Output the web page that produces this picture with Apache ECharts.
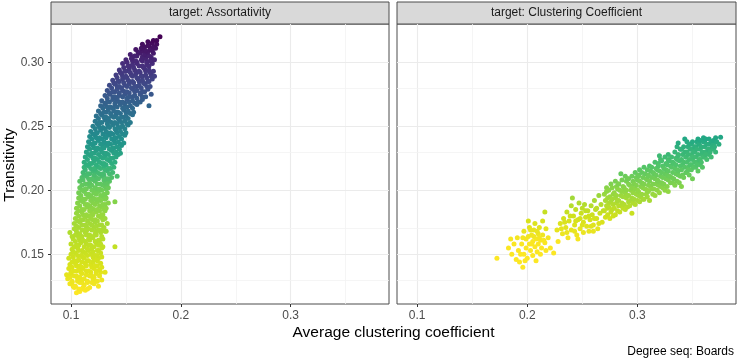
<!DOCTYPE html>
<html>
<head>
<meta charset="utf-8">
<title>Transitivity vs average clustering coefficient</title>
<script src="https://cdn.jsdelivr.net/npm/echarts@6/dist/echarts.min.js"></script>
<style>
  html, body { margin: 0; padding: 0; background: #fff; }
  #chart { width: 737px; height: 363px; }
</style>
</head>
<body>
<div id="chart"></div>
<script>
  // facet strips
  const panelTitles = ['target: Assortativity', 'target: Clustering Coefficient']

  // axis extents and breaks (shared by both facets)
  const xRange = [0.0818, 0.3895]
  const yRange = [0.1112, 0.3299]
  const xBreaks = [0.1, 0.2, 0.3]
  const yBreaks = [0.15, 0.20, 0.25, 0.30]
  const xMinorBreaks = [0.15, 0.25, 0.35]
  const yMinorBreaks = [0.125, 0.175, 0.225, 0.275, 0.325]

  // [average clustering coefficient, transitivity]
  const assortPoints = [
    [0.105,0.120],[0.110,0.123],[0.113,0.122],[0.102,0.125],[0.108,0.121],
    [0.103,0.124],[0.107,0.123],[0.111,0.124],[0.115,0.123],
    [0.099,0.127],[0.104,0.125],[0.108,0.128],[0.112,0.126],[0.117,0.124],[0.121,0.127],[0.125,0.125],
    [0.101,0.128],[0.106,0.129],[0.110,0.128],[0.115,0.129],[0.119,0.128],[0.123,0.129],
    [0.097,0.131],[0.101,0.129],[0.106,0.131],[0.110,0.130],[0.115,0.128],[0.120,0.131],[0.124,0.129],[0.128,0.130],
    [0.099,0.132],[0.103,0.133],[0.108,0.132],[0.112,0.131],[0.117,0.133],[0.121,0.132],[0.126,0.133],
    [0.096,0.134],[0.100,0.135],[0.105,0.133],[0.110,0.135],[0.114,0.134],[0.119,0.133],[0.123,0.135],[0.131,0.136],
    [0.100,0.136],[0.105,0.137],[0.109,0.136],[0.114,0.137],[0.118,0.136],[0.123,0.137],[0.127,0.136],
    [0.098,0.139],[0.102,0.137],[0.107,0.138],[0.111,0.139],[0.116,0.137],[0.121,0.139],[0.126,0.138],
    [0.101,0.140],[0.105,0.141],[0.110,0.140],[0.114,0.141],[0.119,0.140],[0.124,0.141],[0.128,0.140],
    [0.099,0.142],[0.104,0.143],[0.108,0.141],[0.113,0.143],[0.118,0.142],[0.122,0.141],[0.127,0.143],
    [0.101,0.144],[0.106,0.145],[0.110,0.144],[0.115,0.145],[0.120,0.144],[0.124,0.145],
    [0.098,0.147],[0.103,0.145],[0.107,0.146],[0.112,0.147],[0.116,0.145],[0.121,0.146],[0.125,0.147],
    [0.102,0.148],[0.106,0.149],[0.111,0.148],[0.115,0.149],[0.120,0.148],[0.124,0.149],[0.128,0.148],
    [0.100,0.150],[0.104,0.151],[0.109,0.149],[0.113,0.151],[0.118,0.150],[0.122,0.149],[0.127,0.151],
    [0.102,0.152],[0.107,0.153],[0.111,0.152],[0.116,0.153],[0.120,0.152],[0.125,0.153],
    [0.101,0.154],[0.106,0.155],[0.110,0.153],[0.115,0.154],[0.119,0.155],[0.124,0.153],[0.128,0.155],[0.140,0.156],
    [0.103,0.156],[0.107,0.157],[0.112,0.156],[0.116,0.157],[0.121,0.156],[0.125,0.157],[0.129,0.156],
    [0.100,0.158],[0.105,0.157],[0.109,0.159],[0.114,0.158],[0.118,0.157],[0.123,0.159],[0.127,0.158],
    [0.104,0.160],[0.108,0.161],[0.113,0.160],[0.117,0.161],[0.122,0.160],[0.126,0.161],
    [0.102,0.162],[0.107,0.163],[0.111,0.161],[0.116,0.162],[0.120,0.163],[0.125,0.161],[0.129,0.162],
    [0.101,0.164],[0.105,0.165],[0.110,0.164],[0.114,0.165],[0.119,0.164],[0.123,0.165],[0.128,0.164],
    [0.099,0.167],[0.104,0.165],[0.108,0.166],[0.113,0.167],[0.117,0.165],[0.122,0.166],[0.127,0.167],[0.132,0.168],
    [0.105,0.168],[0.110,0.169],[0.114,0.168],[0.119,0.169],[0.123,0.168],[0.128,0.169],[0.131,0.168],
    [0.103,0.170],[0.107,0.171],[0.112,0.169],[0.116,0.170],[0.121,0.171],[0.125,0.169],[0.130,0.171],
    [0.105,0.172],[0.110,0.173],[0.114,0.172],[0.119,0.173],[0.123,0.172],[0.128,0.173],
    [0.103,0.174],[0.108,0.175],[0.113,0.173],[0.117,0.174],[0.122,0.175],[0.126,0.173],[0.133,0.174],
    [0.106,0.176],[0.111,0.177],[0.115,0.176],[0.120,0.177],[0.124,0.176],[0.129,0.177],
    [0.104,0.178],[0.109,0.177],[0.113,0.179],[0.118,0.178],[0.122,0.177],[0.127,0.179],[0.131,0.178],
    [0.107,0.180],[0.111,0.181],[0.116,0.180],[0.120,0.181],[0.125,0.180],[0.129,0.181],
    [0.105,0.182],[0.110,0.183],[0.114,0.181],[0.119,0.182],[0.123,0.183],[0.128,0.181],[0.131,0.184],
    [0.107,0.184],[0.112,0.185],[0.117,0.184],[0.121,0.185],[0.126,0.184],[0.130,0.185],
    [0.105,0.186],[0.110,0.185],[0.115,0.187],[0.119,0.186],[0.124,0.185],[0.128,0.187],[0.132,0.186],
    [0.108,0.188],[0.113,0.189],[0.117,0.188],[0.122,0.189],[0.126,0.188],[0.131,0.189],
    [0.106,0.190],[0.111,0.191],[0.115,0.189],[0.120,0.190],[0.124,0.191],[0.129,0.189],[0.134,0.190],[0.140,0.191],
    [0.109,0.192],[0.113,0.193],[0.118,0.192],[0.122,0.193],[0.127,0.192],[0.131,0.193],
    [0.107,0.194],[0.111,0.193],[0.116,0.195],[0.120,0.194],[0.125,0.193],[0.129,0.195],[0.132,0.194],
    [0.109,0.196],[0.114,0.197],[0.118,0.196],[0.123,0.197],[0.127,0.196],[0.131,0.197],
    [0.107,0.198],[0.112,0.199],[0.116,0.197],[0.121,0.198],[0.125,0.199],[0.130,0.197],[0.133,0.198],
    [0.110,0.200],[0.114,0.201],[0.119,0.200],[0.123,0.201],[0.128,0.200],[0.132,0.201],
    [0.108,0.202],[0.113,0.201],[0.117,0.203],[0.122,0.202],[0.126,0.201],[0.131,0.203],[0.134,0.202],
    [0.110,0.204],[0.115,0.205],[0.119,0.204],[0.124,0.205],[0.129,0.204],[0.133,0.205],
    [0.108,0.207],[0.113,0.205],[0.117,0.206],[0.122,0.207],[0.127,0.205],[0.131,0.206],[0.135,0.207],
    [0.111,0.208],[0.116,0.209],[0.121,0.208],[0.125,0.209],[0.130,0.208],[0.134,0.209],
    [0.110,0.210],[0.114,0.211],[0.119,0.209],[0.123,0.210],[0.128,0.211],[0.132,0.209],[0.137,0.210],[0.142,0.211],
    [0.112,0.212],[0.117,0.213],[0.121,0.212],[0.126,0.213],[0.130,0.212],[0.135,0.213],
    [0.111,0.214],[0.115,0.213],[0.120,0.215],[0.124,0.214],[0.129,0.213],[0.133,0.215],[0.138,0.214],
    [0.113,0.216],[0.118,0.217],[0.122,0.216],[0.127,0.217],[0.131,0.216],[0.136,0.217],
    [0.112,0.218],[0.116,0.219],[0.121,0.217],[0.125,0.218],[0.130,0.219],[0.134,0.217],[0.139,0.218],
    [0.114,0.220],[0.119,0.221],[0.123,0.220],[0.128,0.221],[0.132,0.220],[0.137,0.221],
    [0.112,0.222],[0.117,0.221],[0.121,0.223],[0.126,0.222],[0.130,0.221],[0.135,0.223],[0.140,0.222],
    [0.115,0.224],[0.120,0.225],[0.124,0.224],[0.129,0.225],[0.133,0.224],[0.138,0.225],
    [0.113,0.226],[0.118,0.227],[0.122,0.225],[0.127,0.226],[0.131,0.227],[0.136,0.225],[0.141,0.226],
    [0.116,0.228],[0.121,0.229],[0.125,0.228],[0.130,0.229],[0.134,0.228],[0.139,0.229],[0.143,0.228],
    [0.114,0.230],[0.119,0.229],[0.123,0.231],[0.128,0.230],[0.132,0.229],[0.137,0.231],[0.141,0.230],[0.145,0.229],
    [0.117,0.232],[0.121,0.233],[0.126,0.232],[0.130,0.233],[0.135,0.232],[0.139,0.233],[0.144,0.232],
    [0.115,0.234],[0.120,0.235],[0.124,0.233],[0.129,0.234],[0.133,0.235],[0.138,0.233],[0.142,0.234],[0.146,0.235],
    [0.118,0.236],[0.122,0.237],[0.127,0.236],[0.131,0.237],[0.136,0.236],[0.140,0.237],[0.145,0.236],
    [0.116,0.238],[0.121,0.237],[0.125,0.239],[0.130,0.238],[0.134,0.237],[0.139,0.239],[0.143,0.238],[0.148,0.237],
    [0.119,0.240],[0.123,0.241],[0.128,0.240],[0.132,0.241],[0.137,0.240],[0.141,0.241],[0.146,0.240],
    [0.117,0.242],[0.122,0.243],[0.126,0.241],[0.131,0.242],[0.135,0.243],[0.140,0.241],[0.144,0.242],[0.149,0.243],
    [0.120,0.244],[0.124,0.245],[0.129,0.244],[0.133,0.245],[0.138,0.244],[0.142,0.245],[0.147,0.244],
    [0.118,0.246],[0.123,0.245],[0.127,0.247],[0.132,0.246],[0.136,0.245],[0.141,0.247],[0.145,0.246],[0.150,0.245],
    [0.122,0.248],[0.126,0.249],[0.131,0.248],[0.135,0.249],[0.140,0.248],[0.145,0.249],[0.149,0.248],
    [0.120,0.250],[0.125,0.251],[0.129,0.249],[0.134,0.250],[0.138,0.251],[0.143,0.249],[0.147,0.250],[0.152,0.251],
    [0.124,0.252],[0.128,0.253],[0.133,0.252],[0.137,0.253],[0.142,0.252],[0.146,0.253],[0.151,0.252],
    [0.122,0.254],[0.126,0.253],[0.131,0.255],[0.135,0.254],[0.140,0.253],[0.144,0.255],[0.149,0.254],[0.154,0.253],
    [0.125,0.256],[0.130,0.257],[0.134,0.256],[0.139,0.257],[0.143,0.256],[0.148,0.257],[0.152,0.256],
    [0.123,0.258],[0.128,0.259],[0.132,0.257],[0.137,0.258],[0.141,0.259],[0.146,0.257],[0.150,0.258],[0.156,0.259],
    [0.127,0.260],[0.132,0.261],[0.136,0.260],[0.141,0.261],[0.145,0.260],[0.150,0.261],[0.154,0.260],
    [0.125,0.262],[0.130,0.261],[0.134,0.263],[0.139,0.262],[0.143,0.261],[0.148,0.263],[0.152,0.262],[0.157,0.261],
    [0.129,0.264],[0.133,0.265],[0.138,0.264],[0.142,0.265],[0.147,0.264],[0.151,0.265],[0.156,0.264],
    [0.127,0.266],[0.131,0.267],[0.136,0.265],[0.140,0.266],[0.145,0.267],[0.149,0.265],[0.154,0.266],[0.160,0.267],[0.171,0.266],
    [0.131,0.268],[0.135,0.269],[0.140,0.268],[0.144,0.269],[0.149,0.268],[0.153,0.269],[0.158,0.268],[0.163,0.269],
    [0.128,0.270],[0.133,0.269],[0.138,0.271],[0.142,0.270],[0.147,0.269],[0.151,0.271],[0.156,0.270],[0.161,0.269],[0.165,0.271],
    [0.133,0.272],[0.138,0.273],[0.142,0.272],[0.147,0.273],[0.151,0.272],[0.156,0.273],[0.160,0.272],[0.165,0.273],
    [0.131,0.274],[0.135,0.275],[0.140,0.273],[0.144,0.274],[0.149,0.275],[0.153,0.273],[0.158,0.274],[0.163,0.275],[0.168,0.273],[0.173,0.275],
    [0.135,0.276],[0.140,0.277],[0.144,0.276],[0.149,0.277],[0.153,0.276],[0.158,0.277],[0.163,0.276],[0.167,0.277],
    [0.133,0.278],[0.138,0.277],[0.142,0.279],[0.147,0.278],[0.151,0.277],[0.156,0.279],[0.160,0.278],[0.165,0.277],[0.170,0.279],
    [0.137,0.280],[0.142,0.281],[0.146,0.280],[0.151,0.281],[0.155,0.280],[0.160,0.281],[0.164,0.280],[0.169,0.281],
    [0.135,0.282],[0.140,0.283],[0.144,0.281],[0.149,0.282],[0.153,0.283],[0.158,0.281],[0.162,0.282],[0.167,0.283],[0.172,0.281],
    [0.139,0.284],[0.144,0.285],[0.148,0.284],[0.153,0.285],[0.157,0.284],[0.162,0.285],[0.166,0.284],[0.171,0.285],
    [0.138,0.286],[0.143,0.285],[0.147,0.287],[0.152,0.286],[0.156,0.285],[0.161,0.287],[0.165,0.286],[0.170,0.285],[0.174,0.287],
    [0.142,0.288],[0.147,0.289],[0.151,0.288],[0.156,0.289],[0.160,0.288],[0.165,0.289],[0.169,0.288],[0.173,0.289],
    [0.141,0.290],[0.146,0.291],[0.150,0.289],[0.155,0.290],[0.159,0.291],[0.164,0.289],[0.168,0.290],[0.173,0.291],[0.176,0.289],
    [0.145,0.292],[0.150,0.293],[0.154,0.292],[0.159,0.293],[0.163,0.292],[0.168,0.293],[0.172,0.292],
    [0.144,0.294],[0.149,0.293],[0.153,0.295],[0.158,0.294],[0.162,0.293],[0.167,0.295],[0.171,0.294],[0.175,0.293],
    [0.148,0.296],[0.153,0.297],[0.157,0.296],[0.162,0.297],[0.166,0.296],[0.171,0.297],
    [0.147,0.299],[0.152,0.297],[0.156,0.298],[0.160,0.299],[0.165,0.297],[0.169,0.298],[0.174,0.299],
    [0.151,0.300],[0.156,0.301],[0.160,0.300],[0.165,0.301],[0.169,0.300],[0.173,0.301],
    [0.150,0.302],[0.155,0.303],[0.159,0.301],[0.164,0.302],[0.168,0.303],[0.172,0.301],[0.176,0.302],
    [0.156,0.304],[0.160,0.305],[0.165,0.304],[0.169,0.305],[0.173,0.304],
    [0.154,0.306],[0.158,0.305],[0.163,0.307],[0.167,0.306],[0.171,0.305],[0.175,0.307],
    [0.161,0.308],[0.165,0.309],[0.170,0.308],[0.174,0.309],
    [0.159,0.310],[0.164,0.311],[0.168,0.309],[0.172,0.310],[0.177,0.311],
    [0.167,0.312],[0.171,0.313],[0.175,0.312],
    [0.165,0.314],[0.170,0.313],[0.174,0.315],[0.178,0.314],
    [0.170,0.316],[0.175,0.317],
    [0.178,0.317],[0.181,0.320]
  ]

  const clusterPoints = [
    // low yellow group
    [0.1725,0.147],[0.183,0.155],[0.185,0.162],[0.186,0.150],[0.188,0.158],[0.190,0.146],[0.191,0.163],[0.192,0.153],
    [0.193,0.144],[0.196,0.140],[0.195,0.158],[0.197,0.168],[0.197,0.150],[0.199,0.155],[0.199,0.162],[0.200,0.147],
    [0.201,0.176],[0.202,0.171],[0.202,0.158],[0.203,0.153],[0.204,0.165],[0.205,0.160],[0.205,0.149],[0.206,0.169],
    [0.207,0.156],[0.207,0.174],[0.208,0.162],[0.209,0.152],[0.210,0.166],[0.210,0.158],[0.211,0.171],[0.212,0.161],
    [0.213,0.155],[0.214,0.176],[0.214,0.165],[0.216,0.183],[0.216,0.159],[0.217,0.153],[0.217,0.170],[0.219,0.163],
    [0.221,0.155],[0.224,0.151],[0.198,0.145],[0.194,0.150],[0.201,0.164],[0.208,0.145],
    [0.204,0.158],[0.206,0.164],[0.209,0.168],[0.212,0.150],[0.203,0.169],[0.196,0.163],[0.211,0.163],[0.215,0.161],
    // second group
    [0.227,0.169],[0.228,0.160],[0.230,0.174],[0.232,0.166],[0.233,0.178],[0.235,0.171],[0.236,0.183],[0.237,0.163],
    [0.238,0.176],[0.240,0.169],[0.240,0.188],[0.241,0.194],[0.242,0.180],[0.243,0.173],[0.244,0.185],[0.245,0.165],
    [0.246,0.162],[0.246,0.177],[0.247,0.190],[0.248,0.170],[0.249,0.182],[0.250,0.186],[0.251,0.175],[0.251,0.167],
    [0.252,0.189],[0.253,0.179],[0.254,0.172],[0.255,0.184],[0.256,0.168],[0.257,0.177],[0.258,0.188],[0.259,0.181],
    [0.260,0.173],[0.261,0.192],[0.262,0.185],[0.263,0.178],[0.264,0.170],[0.265,0.196],[0.266,0.182],[0.267,0.189],
    [0.268,0.175],[0.269,0.184],
    [0.234,0.175],[0.239,0.180],[0.243,0.168],[0.248,0.178],[0.250,0.173],[0.253,0.184],[0.256,0.180],[0.258,0.172],
    [0.261,0.178],[0.263,0.186],[0.265,0.174],[0.231,0.170],[0.236,0.167],[0.244,0.176],[0.260,0.168],
    // main band
    [0.271,0.179],[0.270,0.184],[0.272,0.188],[0.271,0.192],[0.270,0.197],[0.272,0.202],
    [0.273,0.181],[0.273,0.186],[0.274,0.190],[0.273,0.194],[0.272,0.199],
    [0.275,0.178],[0.276,0.183],[0.274,0.187],[0.276,0.191],[0.275,0.195],[0.274,0.200],[0.276,0.205],
    [0.278,0.180],[0.277,0.185],[0.278,0.189],[0.277,0.193],[0.278,0.197],[0.277,0.202],
    [0.280,0.181],[0.279,0.186],[0.281,0.190],[0.280,0.194],[0.279,0.198],[0.281,0.203],[0.280,0.207],
    [0.282,0.184],[0.283,0.188],[0.282,0.192],[0.281,0.196],[0.282,0.201],[0.283,0.205],
    [0.284,0.183],[0.285,0.188],[0.283,0.192],[0.285,0.196],[0.284,0.200],[0.283,0.205],[0.285,0.213],
    [0.287,0.186],[0.286,0.190],[0.287,0.195],[0.286,0.199],[0.287,0.203],[0.286,0.208],
    [0.289,0.185],[0.288,0.189],[0.290,0.194],[0.289,0.198],[0.288,0.202],[0.290,0.207],[0.289,0.211],
    [0.291,0.187],[0.292,0.191],[0.291,0.196],[0.290,0.200],[0.292,0.205],[0.291,0.209],
    [0.295,0.182],[0.293,0.188],[0.294,0.192],[0.292,0.196],[0.294,0.200],[0.293,0.204],[0.292,0.209],
    [0.296,0.190],[0.295,0.194],[0.296,0.198],[0.295,0.202],[0.296,0.207],[0.295,0.211],
    [0.298,0.189],[0.297,0.193],[0.299,0.197],[0.298,0.201],[0.297,0.205],[0.299,0.210],[0.298,0.214],
    [0.300,0.192],[0.301,0.196],[0.300,0.200],[0.299,0.204],[0.300,0.208],[0.301,0.212],
    [0.302,0.191],[0.303,0.195],[0.301,0.199],[0.303,0.203],[0.302,0.207],[0.301,0.211],[0.302,0.216],
    [0.305,0.193],[0.304,0.197],[0.305,0.202],[0.304,0.206],[0.305,0.210],[0.304,0.214],
    [0.306,0.193],[0.308,0.197],[0.307,0.201],[0.306,0.205],[0.308,0.209],[0.307,0.213],[0.306,0.218],
    [0.309,0.195],[0.309,0.200],[0.310,0.204],[0.309,0.208],[0.310,0.212],[0.309,0.216],
    [0.311,0.192],[0.310,0.199],[0.312,0.203],[0.311,0.207],[0.310,0.211],[0.312,0.215],[0.311,0.219],
    [0.314,0.197],[0.313,0.201],[0.314,0.205],[0.313,0.210],[0.314,0.214],[0.313,0.218],
    [0.316,0.196],[0.315,0.201],[0.317,0.205],[0.316,0.209],[0.315,0.213],[0.317,0.217],[0.316,0.222],
    [0.318,0.200],[0.319,0.204],[0.318,0.208],[0.317,0.212],[0.318,0.216],[0.319,0.221],
    [0.320,0.198],[0.321,0.203],[0.319,0.207],[0.321,0.211],[0.320,0.215],[0.319,0.219],[0.321,0.224],[0.320,0.227],
    [0.323,0.202],[0.322,0.206],[0.323,0.210],[0.322,0.214],[0.323,0.219],[0.322,0.223],
    [0.325,0.200],[0.324,0.205],[0.326,0.209],[0.325,0.213],[0.324,0.217],[0.326,0.221],[0.325,0.226],
    [0.327,0.203],[0.328,0.208],[0.327,0.212],[0.326,0.216],[0.327,0.220],[0.328,0.224],
    [0.328,0.199],[0.330,0.206],[0.329,0.211],[0.328,0.215],[0.330,0.219],[0.329,0.223],[0.328,0.228],
    [0.332,0.206],[0.331,0.210],[0.332,0.214],[0.331,0.218],[0.332,0.222],[0.331,0.226],
    [0.334,0.204],[0.333,0.209],[0.335,0.213],[0.334,0.217],[0.333,0.221],[0.335,0.225],[0.334,0.230],
    [0.336,0.207],[0.337,0.212],[0.336,0.216],[0.335,0.220],[0.336,0.224],[0.337,0.228],[0.336,0.234],
    [0.338,0.206],[0.339,0.211],[0.337,0.215],[0.339,0.219],[0.338,0.223],[0.337,0.227],[0.339,0.232],[0.337,0.237],
    [0.341,0.212],[0.340,0.216],[0.341,0.220],[0.340,0.224],[0.341,0.228],[0.340,0.232],
    [0.340,0.203],[0.342,0.210],[0.344,0.214],[0.343,0.218],[0.342,0.222],[0.344,0.226],[0.343,0.230],[0.342,0.234],[0.343,0.240],
    [0.345,0.214],[0.346,0.218],[0.345,0.222],[0.344,0.226],[0.345,0.230],[0.346,0.234],[0.345,0.238],
    [0.347,0.212],[0.346,0.216],[0.348,0.220],[0.347,0.224],[0.346,0.228],[0.348,0.232],[0.347,0.236],
    [0.349,0.216],[0.349,0.220],[0.350,0.224],[0.349,0.228],[0.350,0.232],[0.349,0.236],
    [0.350,0.209],[0.351,0.218],[0.352,0.222],[0.350,0.226],[0.351,0.230],[0.352,0.234],[0.350,0.238],
    [0.353,0.218],[0.354,0.222],[0.353,0.226],[0.352,0.230],[0.353,0.234],[0.354,0.238],
    [0.355,0.215],[0.354,0.220],[0.356,0.224],[0.355,0.228],[0.354,0.232],[0.356,0.236],[0.355,0.240],
    [0.357,0.220],[0.357,0.224],[0.358,0.228],[0.357,0.232],[0.356,0.236],[0.357,0.239],
    [0.359,0.218],[0.358,0.222],[0.360,0.226],[0.359,0.230],[0.358,0.234],[0.360,0.238],[0.360,0.241],
    [0.361,0.226],[0.362,0.230],[0.361,0.234],[0.361,0.238],
    [0.363,0.224],[0.362,0.228],[0.364,0.232],[0.363,0.236],[0.362,0.240],
    [0.365,0.228],[0.366,0.232],[0.365,0.236],[0.365,0.240],
    [0.367,0.226],[0.366,0.230],[0.368,0.234],[0.367,0.238],
    [0.369,0.232],[0.369,0.236],[0.369,0.239],
    [0.371,0.230],[0.370,0.234],[0.372,0.238],[0.371,0.241],
    [0.374,0.236],[0.3755,0.2414]
  ]

  // viridis stops, low transitivity -> high, one ramp per facet
  const assortColors = ['#FDE725', '#DCE31A', '#BBDF27', '#9AD83C', '#70CE56', '#30B07D',
    '#21908C', '#2D6F8E', '#3D4F8A', '#472B7A', '#440154']
  const clusterColors = ['#FDE725', '#FAE622', '#CFE11C', '#8ED645', '#4EC36B', '#22A884', '#21908C']

  const fontFamily = '"Liberation Sans", Arial, sans-serif'
  const panels = [
    { left: 51, width: 338 },
    { left: 397, width: 339 }
  ]
  const panelTop = 24
  const panelHeight = 280

  // panel grid lines go under the points
  function gridLines(axisIndex) {
    const major = { color: '#EBEBEB', width: 1.1, type: 'solid' }
    const minor = { color: '#F2F2F2', width: 0.8, type: 'solid' }
    const data = []
    xBreaks.forEach(v => data.push({ xAxis: v, lineStyle: major }))
    xMinorBreaks.forEach(v => data.push({ xAxis: v, lineStyle: minor }))
    yBreaks.forEach(v => data.push({ yAxis: v, lineStyle: major }))
    yMinorBreaks.forEach(v => data.push({ yAxis: v, lineStyle: minor }))
    return {
      type: 'line',
      xAxisIndex: axisIndex,
      yAxisIndex: axisIndex,
      data: [],
      z: 0,
      silent: true,
      markLine: {
        z: 0,
        silent: true,
        symbol: 'none',
        label: { show: false },
        animation: false,
        data: data
      }
    }
  }

  function scatter(axisIndex, points) {
    return {
      type: 'scatter',
      xAxisIndex: axisIndex,
      yAxisIndex: axisIndex,
      symbol: 'circle',
      symbolSize: 5,
      z: 10,
      itemStyle: { opacity: 1 },
      data: points
    }
  }

  const chart = echarts.init(document.getElementById('chart'))
  const option = {
    animation: false,
    backgroundColor: '#ffffff',
    textStyle: { fontFamily: fontFamily },
    grid: panels.map(p => ({
      left: p.left,
      top: panelTop,
      width: p.width,
      height: panelHeight,
      show: true,
      backgroundColor: 'transparent',
      borderColor: '#4D4D4D',
      borderWidth: 1
    })),
    xAxis: panels.map((p, i) => ({
      gridIndex: i,
      type: 'value',
      min: xRange[0],
      max: xRange[1],
      axisLine: { show: false },
      splitLine: { show: false },
      axisTick: {
        show: true,
        customValues: xBreaks,
        length: 3,
        lineStyle: { color: '#333333' }
      },
      axisLabel: {
        customValues: xBreaks,
        color: '#4D4D4D',
        fontSize: 12,
        margin: 6,
        formatter: v => String(v)
      }
    })),
    yAxis: panels.map((p, i) => ({
      gridIndex: i,
      type: 'value',
      min: yRange[0],
      max: yRange[1],
      axisLine: { show: false },
      splitLine: { show: false },
      axisTick: {
        show: i === 0,
        customValues: yBreaks,
        length: 3,
        lineStyle: { color: '#333333' }
      },
      axisLabel: {
        show: i === 0,
        customValues: yBreaks,
        color: '#4D4D4D',
        fontSize: 12,
        margin: 7,
        formatter: v => v.toFixed(2)
      }
    })),
    visualMap: [
      {
        type: 'continuous', show: false, dimension: 1, seriesIndex: 2,
        min: 0.12, max: 0.32, inRange: { color: assortColors }
      },
      {
        type: 'continuous', show: false, dimension: 1, seriesIndex: 3,
        min: 0.14, max: 0.26, inRange: { color: clusterColors }
      }
    ],
    graphic: [
      ...panels.map((p, i) => ({
        type: 'rect',
        shape: { x: p.left, y: 2, width: p.width, height: panelTop - 2 },
        style: { fill: '#D9D9D9', stroke: '#4D4D4D', lineWidth: 1 }
      })),
      ...panels.map((p, i) => ({
        type: 'text',
        x: p.left + p.width / 2,
        y: 13,
        style: {
          text: panelTitles[i], fill: '#1A1A1A', fontSize: 12, fontFamily: fontFamily,
          align: 'center', verticalAlign: 'middle'
        }
      })),
      {
        type: 'text',
        x: 10,
        y: 165,
        rotation: Math.PI / 2,
        style: {
          text: 'Transitivity', fill: '#000000', fontSize: 15.5, fontFamily: fontFamily,
          align: 'center', verticalAlign: 'middle'
        }
      },
      {
        type: 'text',
        x: (panels[0].left + panels[1].left + panels[1].width) / 2,
        y: 333,
        style: {
          text: 'Average clustering coefficient', fill: '#000000', fontSize: 15.5, fontFamily: fontFamily,
          align: 'center', verticalAlign: 'middle'
        }
      },
      {
        type: 'text',
        x: 734,
        y: 352,
        style: {
          text: 'Degree seq: Boards', fill: '#000000', fontSize: 12, fontFamily: fontFamily,
          align: 'right', verticalAlign: 'middle'
        }
      }
    ],
    series: [
      gridLines(0),
      gridLines(1),
      scatter(0, assortPoints),
      scatter(1, clusterPoints)
    ]
  }
  chart.setOption(option)
</script>
</body>
</html>
